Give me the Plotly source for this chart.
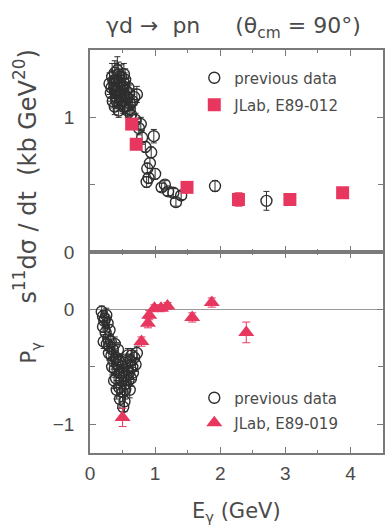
import plotly.graph_objects as go

# ---------------- data ----------------
# top panel: s^11 dsigma/dt
prev_top_E = [0.30, 0.32, 0.34, 0.35, 0.37, 0.38, 0.40, 0.40, 0.42, 0.43, 0.45, 0.45,
              0.47, 0.48, 0.50, 0.50, 0.52, 0.53, 0.55, 0.55, 0.57, 0.58, 0.60, 0.62,
              0.63, 0.65, 0.68, 0.70, 0.72, 0.75, 0.78, 0.80, 0.85, 0.87, 0.88, 0.90,
              0.92, 0.94, 0.98, 1.00, 1.10, 1.15, 1.20, 1.28, 1.32, 1.40, 1.92, 2.71,
              0.33, 0.36, 0.39, 0.41, 0.44, 0.46, 0.49, 0.51, 0.54, 0.56, 0.59, 0.61,
              0.44, 0.38, 0.52]
prev_top_val = [1.25, 1.18, 1.30, 1.12, 1.22, 1.08, 1.28, 1.15, 1.35, 1.20, 1.10, 1.26,
                1.18, 1.30, 1.12, 1.22, 1.16, 1.25, 1.08, 1.20, 1.14, 1.05, 1.18, 1.10,
                1.02, 1.12, 1.15, 0.98, 1.17, 0.92, 0.95, 0.85, 0.78, 0.52, 0.62, 0.55,
                0.66, 0.74, 0.86, 0.58, 0.48, 0.50, 0.45, 0.44, 0.37, 0.42, 0.49, 0.38,
                1.22, 1.27, 1.20, 1.12, 1.32, 1.15, 1.24, 1.08, 1.28, 1.15, 1.22, 1.06,
                1.05, 1.33, 1.32]
prev_top_err = [0.08, 0.06, 0.10, 0.05, 0.07, 0.06, 0.12, 0.05, 0.10, 0.06, 0.05, 0.08,
                0.06, 0.09, 0.05, 0.07, 0.05, 0.08, 0.05, 0.06, 0.05, 0.05, 0.06, 0.05,
                0.05, 0.05, 0.06, 0.05, 0.06, 0.05, 0.05, 0.05, 0.04, 0.04, 0.04, 0.04,
                0.04, 0.04, 0.05, 0.04, 0.03, 0.03, 0.03, 0.03, 0.03, 0.03, 0.04, 0.07,
                0.07, 0.08, 0.06, 0.05, 0.09, 0.06, 0.07, 0.05, 0.08, 0.06, 0.07, 0.05,
                0.05, 0.09, 0.08]

jlab12_E = [0.64, 0.71, 1.49, 2.28, 3.07, 3.88]
jlab12_val = [0.95, 0.80, 0.48, 0.39, 0.39, 0.44]
jlab12_err = [0.03, 0.03, 0.02, 0.05, 0.02, 0.03]

# bottom panel: P_y
prev_pol_E = [0.18, 0.20, 0.22, 0.20, 0.25, 0.24, 0.27, 0.28, 0.30, 0.30, 0.32, 0.33,
              0.35, 0.36, 0.38, 0.38, 0.40, 0.40, 0.42, 0.43, 0.45, 0.45, 0.47, 0.48,
              0.50, 0.50, 0.52, 0.53, 0.55, 0.55, 0.57, 0.58, 0.60, 0.62, 0.63, 0.65,
              0.68, 0.70, 0.72,
              0.26, 0.29, 0.34, 0.37, 0.41, 0.44, 0.46, 0.49, 0.51, 0.54, 0.56, 0.59,
              0.61, 0.64, 0.66, 0.23, 0.21]
prev_pol_val = [-0.02, -0.06, -0.10, -0.15, -0.05, -0.20, -0.12, -0.25, -0.18, -0.32, -0.28, -0.40,
                -0.35, -0.45, -0.30, -0.52, -0.42, -0.60, -0.48, -0.35, -0.55, -0.68, -0.45, -0.62,
                -0.50, -0.72, -0.58, -0.80, -0.45, -0.65, -0.52, -0.40, -0.55, -0.45, -0.60, -0.50,
                -0.42, -0.48, -0.38,
                -0.30, -0.38, -0.50, -0.62, -0.70, -0.45, -0.78, -0.55, -0.85, -0.70, -0.58, -0.62,
                -0.70, -0.40, -0.55, -0.08, -0.28]
prev_pol_err = [0.05, 0.05, 0.06, 0.05, 0.06, 0.06, 0.05, 0.06, 0.05, 0.06, 0.06, 0.07,
                0.06, 0.07, 0.06, 0.07, 0.06, 0.08, 0.06, 0.06, 0.07, 0.08, 0.06, 0.07,
                0.06, 0.08, 0.07, 0.09, 0.06, 0.07, 0.06, 0.06, 0.06, 0.06, 0.07, 0.06,
                0.06, 0.06, 0.06,
                0.06, 0.06, 0.07, 0.07, 0.08, 0.06, 0.08, 0.07, 0.09, 0.08, 0.07, 0.07,
                0.07, 0.06, 0.06, 0.05, 0.06]

jlab19_E = [0.50, 0.79, 0.89, 0.91, 0.99, 1.09, 1.19, 1.57, 1.87, 2.40]
jlab19_val = [-0.94, -0.28, -0.12, -0.05, 0.01, 0.01, 0.03, -0.07, 0.06, -0.20]
jlab19_err = [0.08, 0.04, 0.04, 0.04, 0.03, 0.03, 0.03, 0.04, 0.04, 0.09]

x_ticks = [0, 1, 2, 3, 4]
top_ticks = [0, 1]
top_ticktext = ["0", "1"]
top_minor = [0.5, 1.5]
bot_ticks = [-1, 0]
bot_ticktext = ["\u22121", "0"]
bot_minor = [-0.5]

# ---------------- style ----------------
RED = "#e8375f"
PREV = "#2e2e2e"
TXT = "#4a4a4a"
AX = "#7a7a7a"
FONT = "Liberation Sans, Arial, sans-serif"
WFONT = "DejaVu Sans, Liberation Sans, sans-serif"

fig = go.Figure()

fig.add_trace(go.Scatter(
    x=prev_top_E, y=prev_top_val, mode="markers", name="previous data",
    marker=dict(symbol="circle-open", size=11, color=PREV, line=dict(width=1.4, color=PREV)),
    error_y=dict(type="data", array=prev_top_err, color=PREV, thickness=1, width=3),
    xaxis="x", yaxis="y", legend="legend"))
fig.add_trace(go.Scatter(
    x=jlab12_E, y=jlab12_val, mode="markers", name="JLab, E89-012",
    marker=dict(symbol="square", size=13, color=RED),
    error_y=dict(type="data", array=jlab12_err, color=RED, thickness=1, width=4),
    xaxis="x", yaxis="y", legend="legend2"))
fig.add_trace(go.Scatter(
    x=prev_pol_E, y=prev_pol_val, mode="markers", name="previous data",
    marker=dict(symbol="circle-open", size=11, color=PREV, line=dict(width=1.4, color=PREV)),
    error_y=dict(type="data", array=prev_pol_err, color=PREV, thickness=1, width=3),
    xaxis="x2", yaxis="y2", legend="legend3"))
fig.add_trace(go.Scatter(
    x=jlab19_E, y=jlab19_val, mode="markers", name="JLab, E89-019",
    marker=dict(symbol="triangle-up", size=14, color=RED),
    error_y=dict(type="data", array=jlab19_err, color=RED, thickness=1, width=4),
    xaxis="x2", yaxis="y2", legend="legend4"))

split = (453 - 252) / 403.0

axis_common = dict(showline=True, linecolor=AX, linewidth=1.5, mirror="ticks",
                   ticks="inside", ticklen=6, tickcolor=AX, tickwidth=1.2,
                   showgrid=False, zeroline=False,
                   tickfont=dict(family=FONT, size=19, color=TXT))

fig.update_layout(
    width=385, height=527,
    margin=dict(l=90, r=0, t=50, b=74),
    paper_bgcolor="white", plot_bgcolor="white",
    font=dict(family=FONT, color=TXT),
    xaxis=dict(axis_common, domain=[0, 1], range=[0, 4.5], anchor="y",
               tickvals=x_ticks, showticklabels=False,
               minor=dict(dtick=0.5, tick0=0, ticks="inside", ticklen=3, tickcolor=AX)),
    yaxis=dict(axis_common, domain=[split, 1], range=[0, 1.5], anchor="x",
               tickvals=top_ticks, ticktext=top_ticktext, ticklabelstandoff=10,
               minor=dict(tickvals=top_minor, ticks="inside", ticklen=5, tickcolor=AX)),
    xaxis2=dict(axis_common, domain=[0, 1], range=[0, 4.5], anchor="y2",
                tickvals=x_ticks, ticklabelstandoff=2,
                minor=dict(dtick=0.5, tick0=0, ticks="inside", ticklen=3, tickcolor=AX)),
    yaxis2=dict(axis_common, domain=[0, split], range=[-1.25, 0.5], anchor="x2",
                tickvals=bot_ticks, ticktext=bot_ticktext, ticklabelstandoff=10,
                minor=dict(tickvals=bot_minor, ticks="inside", ticklen=5, tickcolor=AX),
                zeroline=True, zerolinecolor="#9a9a9a", zerolinewidth=1),
)

leg_common = dict(xref="paper", yref="paper", xanchor="left", yanchor="middle",
                  bgcolor="rgba(0,0,0,0)", font=dict(family=WFONT, size=15, color=TXT),
                  itemwidth=30, borderwidth=0)
lx = (195 - 90) / 295.0
def py(p):
    return (453 - p) / 403.0
fig.update_layout(
    showlegend=True,
    legend=dict(leg_common, x=lx, y=py(78)),
    legend2=dict(leg_common, x=lx, y=py(105)),
    legend3=dict(leg_common, x=lx, y=py(398)),
    legend4=dict(leg_common, x=lx, y=py(423)),
)

def px(p):
    return (p - 90) / 295.0

fig.add_annotation(text="\u03b3d \u2192\u00a0 pn\u00a0\u00a0\u00a0\u00a0 (\u03b8<sub>cm</sub> = 90\u00b0)",
                   x=px(234), y=py(27), xref="paper", yref="paper", showarrow=False,
                   font=dict(family=WFONT, size=22, color=TXT), xanchor="center", yanchor="middle")
fig.add_annotation(text="s<sup>11</sup>d\u03c3\u00a0/\u00a0dt\u00a0\u00a0(kb\u00a0GeV<sup>20</sup>)",
                   x=px(25), y=py(176), xref="paper", yref="paper", showarrow=False,
                   textangle=-90, font=dict(family=WFONT, size=24, color=TXT),
                   xanchor="center", yanchor="middle")
fig.add_annotation(text="P<sub>\u03b3</sub>",
                   x=px(30), y=py(352), xref="paper", yref="paper", showarrow=False,
                   textangle=-90, font=dict(family=WFONT, size=21, color=TXT),
                   xanchor="center", yanchor="middle")
fig.add_annotation(text="E<sub>\u03b3</sub> (GeV)",
                   x=px(238), y=py(512), xref="paper", yref="paper", showarrow=False,
                   font=dict(family=WFONT, size=21, color=TXT), xanchor="center", yanchor="middle")

fig.write_html("out.html")
